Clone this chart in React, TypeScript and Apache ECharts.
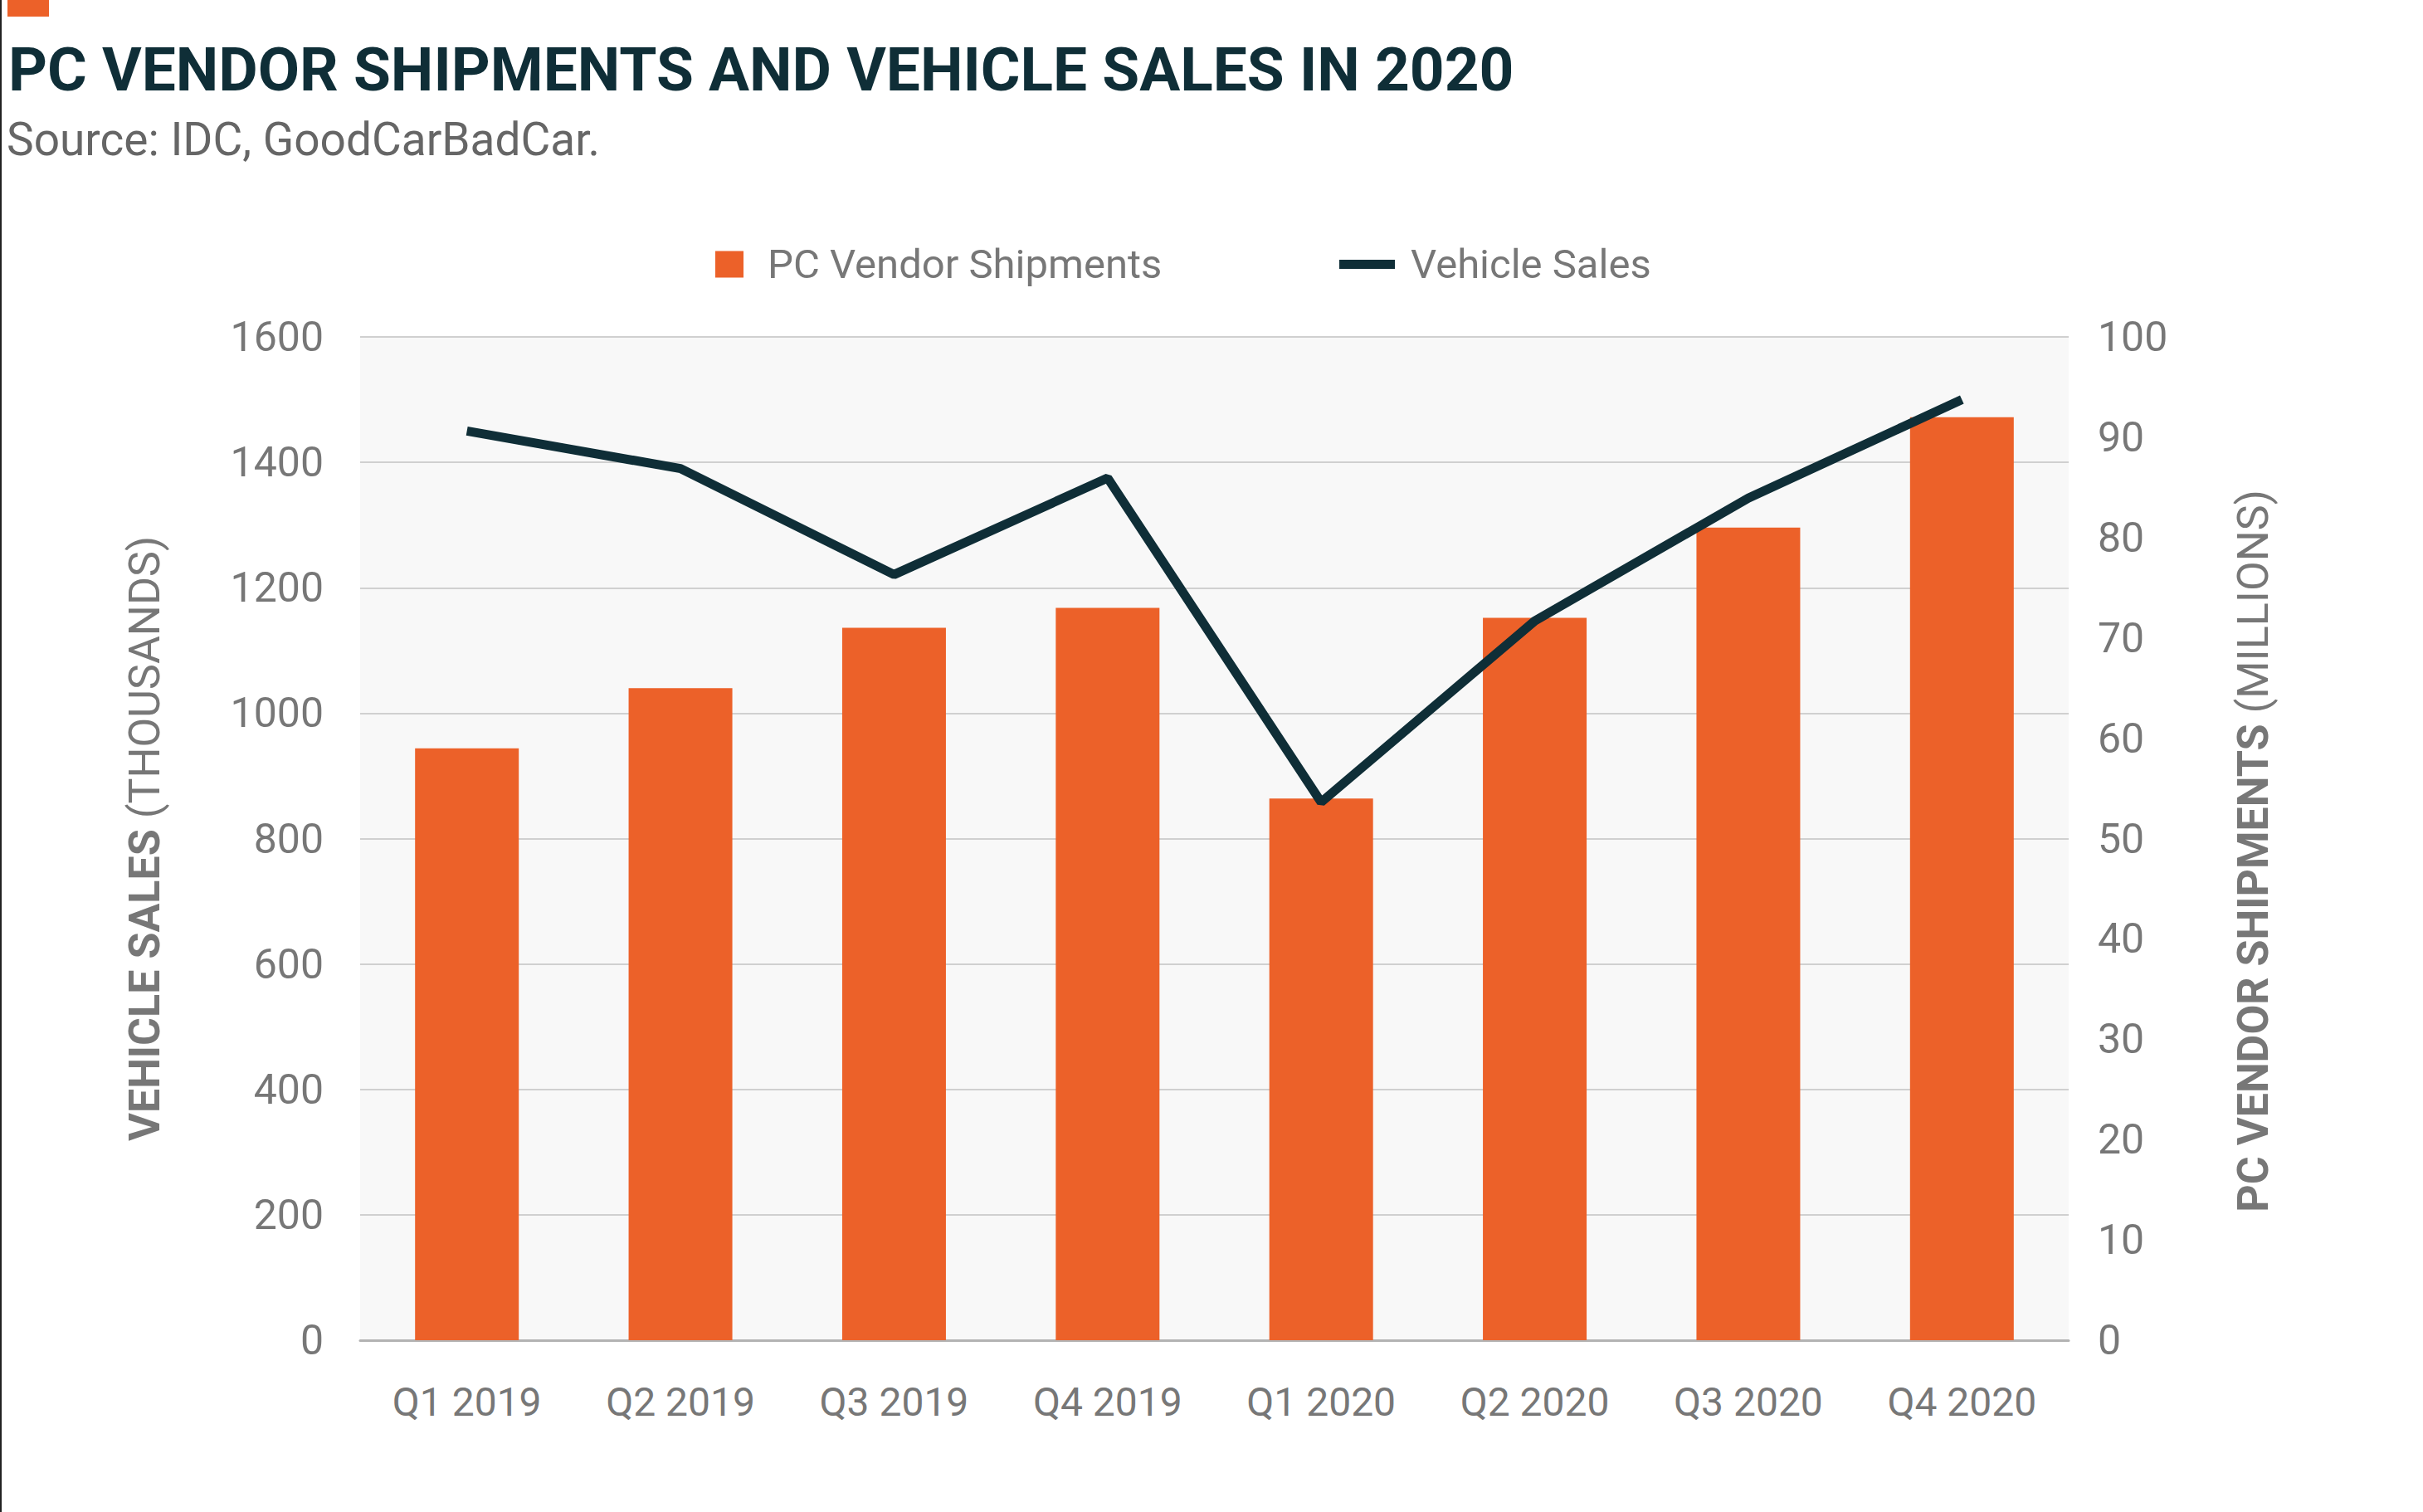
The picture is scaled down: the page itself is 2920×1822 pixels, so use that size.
import React, { useEffect, useRef } from "react";
import * as echarts from "echarts";

const categories = ["Q1 2019", "Q2 2019", "Q3 2019", "Q4 2019", "Q1 2020", "Q2 2020", "Q3 2020", "Q4 2020"];
const pcShipments = [59, 65, 71, 73, 54, 72, 81, 92];
const vehicleSales = [1450, 1390, 1221, 1375, 858, 1147, 1343, 1500];
const leftAxisMax = 1600;
const leftAxisStep = 200;
const rightAxisMax = 100;
const rightAxisStep = 10;

const FONT = "'Roboto', sans-serif";
const ORANGE = "#ec6129";
const DARK = "#0f2e37";
const GRAY = "#777777";

export default function App() {
  const ref = useRef<HTMLDivElement>(null);
  useEffect(() => {
    document.body.style.margin = "0";
    const chart = echarts.init(ref.current!, undefined, { renderer: "svg" });
    chart.setOption({
      animation: false,
      backgroundColor: "#ffffff",
      textStyle: { fontFamily: FONT },
      title: [
        {
          text: "PC VENDOR SHIPMENTS AND VEHICLE SALES IN 2020",
          left: 10,
          top: 47,
          padding: 0,
          textStyle: { fontFamily: FONT, fontSize: 73, fontWeight: "bold", color: DARK },
        },
        {
          text: "Source: IDC, GoodCarBadCar.",
          left: 8,
          top: 140,
          padding: 0,
          textStyle: { fontFamily: FONT, fontSize: 55, fontWeight: "normal", color: "#666666" },
        },
      ],
      graphic: [
        { type: "rect", left: 0, top: 0, shape: { width: 2, height: 1822 }, style: { fill: "#222222" } },
        { type: "rect", left: 9, top: 0, shape: { width: 50, height: 20 }, style: { fill: ORANGE } },
      ],
      legend: [
        {
          data: ["PC Vendor Shipments"],
          left: 862,
          top: 294,
          padding: 0,
          itemWidth: 34,
          itemHeight: 32,
          icon: "rect",
          textStyle: { fontFamily: FONT, fontSize: 49, color: GRAY, padding: [0, 0, 0, 24] },
        },
        {
          data: ["Vehicle Sales"],
          left: 1614,
          top: 294,
          padding: 0,
          itemWidth: 67,
          itemHeight: 11,
          icon: "rect",
          itemStyle: { color: DARK },
          textStyle: { fontFamily: FONT, fontSize: 49, color: GRAY, padding: [0, 0, 0, 14] },
        },
      ],
      grid: {
        left: 434,
        right: 427,
        top: 406,
        bottom: 207,
        show: true,
        backgroundColor: "#f8f8f8",
        borderWidth: 0,
      },
      xAxis: {
        type: "category",
        data: categories,
        axisTick: { show: false },
        axisLine: { show: true, lineStyle: { color: "#b3b3b3", width: 3 } },
        axisLabel: { fontFamily: FONT, fontSize: 48, color: GRAY, margin: 50, interval: 0 },
      },
      yAxis: [
        {
          type: "value",
          min: 0,
          max: leftAxisMax,
          interval: leftAxisStep,
          position: "left",
          name: "{b|VEHICLE SALES} {r|(THOUSANDS)}",
          nameLocation: "middle",
          nameRotate: 90,
          nameGap: 234,
          nameTextStyle: {
            fontFamily: FONT,
            fontSize: 52,
            color: GRAY,
            rich: {
              b: { fontFamily: FONT, fontSize: 52, fontWeight: "bold", color: GRAY },
              r: { fontFamily: FONT, fontSize: 52, fontWeight: "normal", color: GRAY },
            },
          },
          axisLine: { show: false },
          axisTick: { show: false },
          axisLabel: { fontFamily: FONT, fontSize: 50, color: GRAY, margin: 44, formatter: (v: number) => String(v) },
          splitLine: { show: true, lineStyle: { color: "#d0d0d0", width: 2 } },
        },
        {
          type: "value",
          min: 0,
          max: rightAxisMax,
          interval: rightAxisStep,
          position: "right",
          name: "{b|PC VENDOR SHIPMENTS} {r|(MILLIONS)}",
          nameLocation: "middle",
          nameRotate: 90,
          nameGap: 196,
          nameTextStyle: {
            fontFamily: FONT,
            fontSize: 52,
            color: GRAY,
            padding: [0, 30, 0, 0],
            rich: {
              b: { fontFamily: FONT, fontSize: 52, fontWeight: "bold", color: GRAY },
              r: { fontFamily: FONT, fontSize: 52, fontWeight: "normal", color: GRAY },
            },
          },
          axisLine: { show: false },
          axisTick: { show: false },
          axisLabel: { fontFamily: FONT, fontSize: 50, color: GRAY, margin: 35, formatter: (v: number) => String(v) },
          splitLine: { show: false },
        },
      ],
      series: [
        {
          name: "PC Vendor Shipments",
          type: "bar",
          yAxisIndex: 1,
          data: pcShipments,
          barWidth: 125,
          itemStyle: { color: ORANGE },
        },
        {
          name: "Vehicle Sales",
          type: "line",
          yAxisIndex: 0,
          data: vehicleSales,
          symbol: "none",
          lineStyle: { color: DARK, width: 11 },
          itemStyle: { color: DARK },
        },
      ],
    });
    return () => chart.dispose();
  }, []);
  return <div ref={ref} style={{ width: 2920, height: 1822 }} />;
}
